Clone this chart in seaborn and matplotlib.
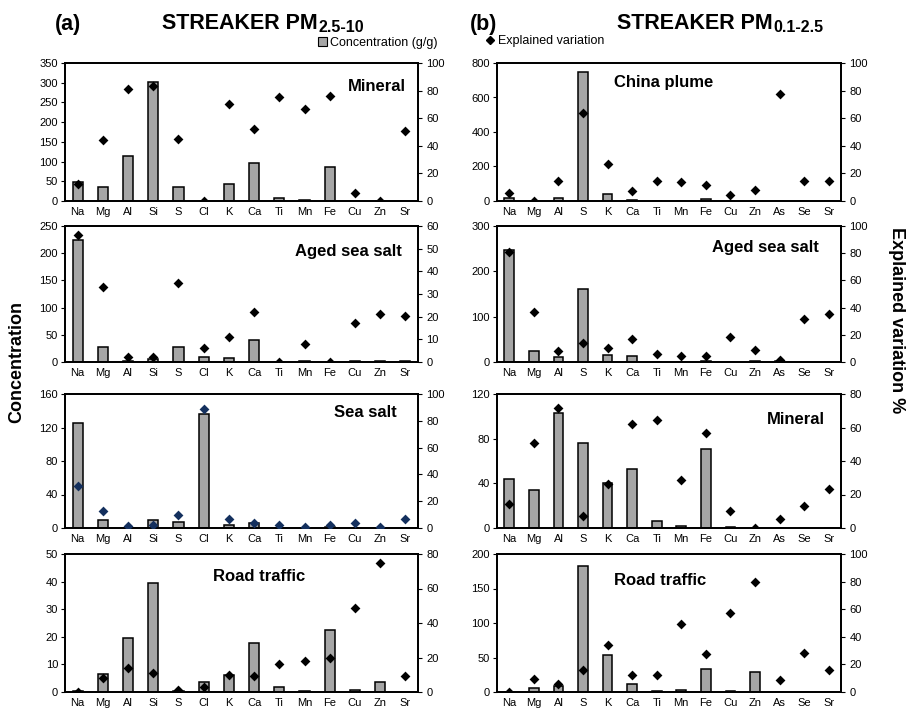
import numpy as np
import matplotlib
matplotlib.use('Agg')
import matplotlib.pyplot as plt
from matplotlib.patches import Patch
from matplotlib.lines import Line2D
import seaborn as sns

sns.set_theme(style='white')
plt.rcParams['font.family'] = ['Liberation Sans', 'DejaVu Sans']
plt.rcParams['text.color'] = 'black'
plt.rcParams['xtick.color'] = 'black'
plt.rcParams['ytick.color'] = 'black'

# elementos de cada fracción
elem_a = ['Na', 'Mg', 'Al', 'Si', 'S', 'Cl', 'K', 'Ca', 'Ti', 'Mn', 'Fe', 'Cu', 'Zn', 'Sr']
elem_b = ['Na', 'Mg', 'Al', 'S', 'K', 'Ca', 'Ti', 'Mn', 'Fe', 'Cu', 'Zn', 'As', 'Se', 'Sr']

# (a) PM2.5-10: concentración (barras) y variación explicada % (rombos)
mineral_a_conc = [47, 36, 115, 303, 36, 0, 43, 97, 8, 2, 86, 1, 0, 1]
mineral_a_ev = [12, 44, 81, 83, 45, 0, 70, 52, 75, 67, 76, 6, 0, 51]
agedsalt_a_conc = [224, 27, 2, 5, 28, 10, 7, 41, 0, 1, 0, 1, 1, 1]
agedsalt_a_ev = [56, 33, 2, 2, 35, 6, 11, 22, 0, 8, 0, 17, 21, 20.5]
seasalt_a_conc = [125, 10, 0, 9, 7, 136, 4, 6, 0, 0, 1, 0, 0, 0]
seasalt_a_ev = [31, 13, 1.5, 2.5, 9.5, 88.5, 7, 4, 2, 1, 2.5, 4, 0.5, 7]
road_a_conc = [0.2, 6.5, 19.7, 39.5, 0.2, 3.8, 6, 17.8, 1.8, 0.4, 22.5, 0.6, 3.7, 0.1]
road_a_ev = [0, 8, 14, 11, 1, 3, 10, 9.5, 16.5, 18, 20, 48.5, 74.5, 9]

# (b) PM0.1-2.5
china_b_conc = [15, 0, 20, 750, 42, 3, 1, 0, 12, 0, 2, 2, 0, 0]
china_b_ev = [5.5, 0, 14.5, 64, 27, 7.5, 14.5, 14, 11.5, 4, 8, 77.5, 14.5, 14.5]
agedsalt_b_conc = [246, 24, 11, 162, 16, 14, 1, 1, 3, 0, 2, 2, 0, 0]
agedsalt_b_ev = [81, 36.5, 8, 14, 10.5, 17, 6, 4.5, 4.5, 18.5, 9, 1.5, 31.5, 35]
mineral_b_conc = [44, 34, 103, 76, 40, 53, 6.5, 1.5, 71, 0.5, 0, 0.3, 0.2, 0.3]
mineral_b_ev = [14.5, 51, 71.5, 7, 26, 62, 64.5, 28.5, 57, 10, 0, 5.5, 13, 23.5]
road_b_conc = [0, 6, 9, 182, 54, 11, 1, 3, 34, 2, 29, 0.5, 0, 0.3]
road_b_ev = [0, 9.5, 6, 16, 34, 12, 12.5, 49, 27.5, 57, 80, 9, 28, 16]

BAR = '#a6a6a6'
W, H = 916, 712


def px_axes(fig, x0, x1, y0, y1):
    return fig.add_axes([x0 / W, 1 - y1 / H, (x1 - x0) / W, (y1 - y0) / H])


def panel(ax, elems, conc, ev, ymax, ystep, evmax, evstep, label, lx, ly, ha,
          mcolor='black'):
    sns.barplot(x=elems, y=conc, color=BAR, saturation=1, edgecolor='black',
                linewidth=1.1, width=0.4, ax=ax)
    ax2 = ax.twinx()
    sns.stripplot(x=elems, y=ev, jitter=False, marker='D', color=mcolor,
                  size=5, linewidth=0, ax=ax2, zorder=5)
    n = len(elems)
    ax.set_xlim(-0.5, n - 0.5)
    ax.set_ylim(0, ymax)
    ax.set_yticks(np.arange(0, ymax + 1, ystep))
    ax2.set_ylim(0, evmax)
    ax2.set_yticks(np.arange(0, evmax + 1, evstep))
    ax.set_xticks(range(n))
    ax.set_xticklabels(elems)
    ax.set_xticks(np.arange(-0.5, n), minor=True)
    ax.tick_params(axis='x', which='major', length=0, pad=4, labelsize=8)
    ax.tick_params(axis='x', which='minor', length=5, width=0.8,
                   direction='inout', color='black')
    ax.tick_params(axis='y', length=3, width=0.8, labelsize=8, pad=2,
                   color='black', left=True)
    ax2.tick_params(axis='y', length=3, width=0.8, labelsize=8, pad=3,
                    color='black', right=True)
    ax.set_xlabel('')
    ax.set_ylabel('')
    ax2.set_ylabel('')
    for a in (ax, ax2):
        for s in a.spines.values():
            s.set_color('black')
            s.set_linewidth(1.3)
    ax.text(lx, ly, label, transform=ax.transAxes, ha=ha, va='center',
            fontsize=12, fontweight='bold')


fig = plt.figure(figsize=(W / 100, H / 100), dpi=100)

rows = [(63, 201), (226, 362), (394, 528), (554, 692)]
LX = (65, 418)
RX = (497, 841)

ax = px_axes(fig, *LX, *rows[0])
panel(ax, elem_a, mineral_a_conc, mineral_a_ev, 350, 50, 100, 20, 'Mineral', 0.965, 0.83, 'right')
ax = px_axes(fig, *LX, *rows[1])
panel(ax, elem_a, agedsalt_a_conc, agedsalt_a_ev, 250, 50, 60, 10, 'Aged sea salt', 0.955, 0.81, 'right')
ax = px_axes(fig, *LX, *rows[2])
panel(ax, elem_a, seasalt_a_conc, seasalt_a_ev, 160, 40, 100, 20, 'Sea salt', 0.94, 0.86, 'right',
      mcolor='#14305e')
ax = px_axes(fig, *LX, *rows[3])
panel(ax, elem_a, road_a_conc, road_a_ev, 50, 10, 80, 20, 'Road traffic', 0.55, 0.84, 'center')

ax = px_axes(fig, *RX, *rows[0])
panel(ax, elem_b, china_b_conc, china_b_ev, 800, 200, 100, 20, 'China plume', 0.485, 0.856, 'center')
ax = px_axes(fig, *RX, *rows[1])
panel(ax, elem_b, agedsalt_b_conc, agedsalt_b_ev, 300, 100, 100, 20, 'Aged sea salt', 0.935, 0.845, 'right')
ax = px_axes(fig, *RX, *rows[2])
panel(ax, elem_b, mineral_b_conc, mineral_b_ev, 120, 40, 80, 20, 'Mineral', 0.953, 0.81, 'right')
ax = px_axes(fig, *RX, *rows[3])
panel(ax, elem_b, road_b_conc, road_b_ev, 200, 50, 100, 20, 'Road traffic', 0.474, 0.81, 'center')

# títulos
fig.text(55 / W, 1 - 30 / H, '(a)', fontsize=15.5, fontweight='bold', ha='left', va='baseline')
fig.text(470 / W, 1 - 30 / H, '(b)', fontsize=15.5, fontweight='bold', ha='left', va='baseline')
for x0, sub in [(162, '2.5-10'), (617, '0.1-2.5')]:
    t = fig.text(x0 / W, 1 - 29 / H, 'STREAKER PM', fontsize=15.5, fontweight='bold',
                 ha='left', va='baseline')
    plt.annotate(sub, xy=(1, 0), xycoords=t, xytext=(0.5, 1.5), textcoords='offset points',
                 fontsize=11.5, fontweight='bold', ha='left', va='baseline')

# leyendas
h_conc = Patch(facecolor=BAR, edgecolor='black', linewidth=0.8, label='Concentration (g/g)')
h_ev = Line2D([], [], marker='D', color='black', linestyle='none', markersize=4.5,
              label='Explained variation')
leg_kw = dict(frameon=False, fontsize=9, handlelength=0.7, handleheight=0.7,
              handletextpad=0.25, borderpad=0, borderaxespad=0, loc='center left')
fig.legend(handles=[h_conc], bbox_to_anchor=(318 / W, 1 - 43 / H), **leg_kw)
fig.legend(handles=[h_ev], bbox_to_anchor=(486 / W, 1 - 41 / H), **leg_kw)

# etiquetas de ejes
fig.text(17 / W, 1 - 362 / H, 'Concentration', fontsize=13, fontweight='bold',
         rotation=90, ha='center', va='center')
fig.text(897 / W, 1 - 320 / H, 'Explained variation %', fontsize=13, fontweight='bold',
         rotation=-90, ha='center', va='center')

fig.savefig('out.png', dpi=100)
